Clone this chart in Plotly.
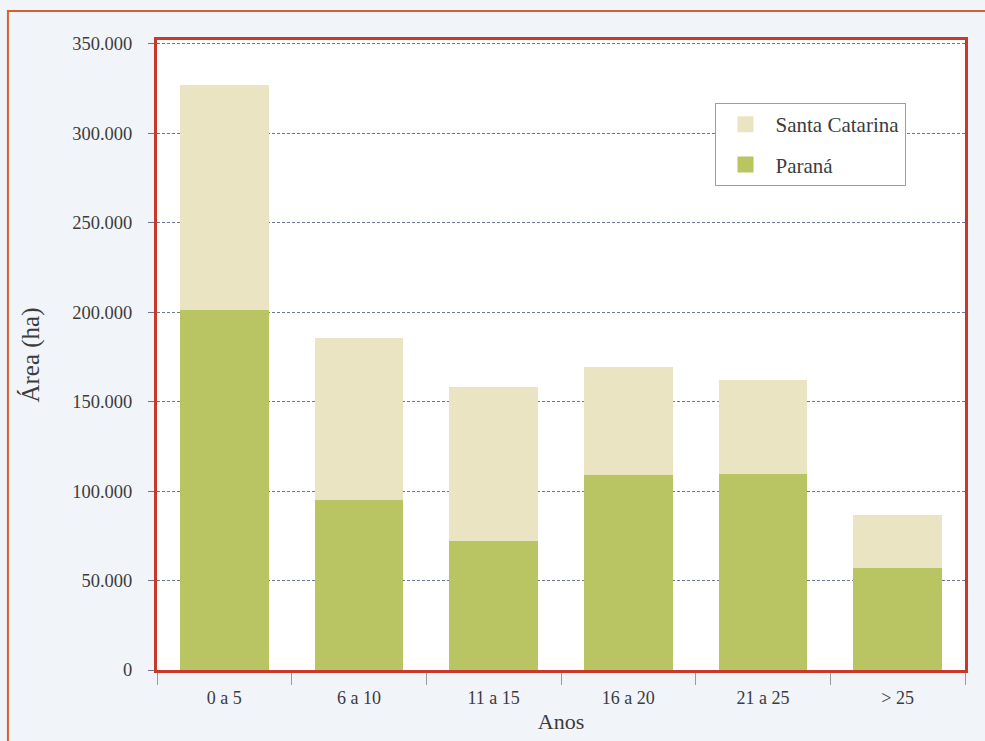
import plotly.graph_objects as go

# Planted area (ha) by stand age class
classes = ["0 a 5", "6 a 10", "11 a 15", "16 a 20", "21 a 25", "> 25"]
parana = [201000, 95000, 72000, 109000, 109500, 57000]
santa_catarina = [126000, 90500, 86000, 60500, 52500, 29500]

y_ticks = [0, 50000, 100000, 150000, 200000, 250000, 300000, 350000]

serif = "Liberation Serif, Times New Roman, serif"
text_color = "#3c3c3c"
frame_red = "#c8392a"
color_pr = "#b9c462"
color_sc = "#ebe4c2"

fig = go.Figure()
fig.add_trace(go.Bar(
    x=classes, y=parana, name="Paraná", showlegend=False,
    marker=dict(color=color_pr, line=dict(width=0)),
))
fig.add_trace(go.Bar(
    x=classes, y=santa_catarina, name="Santa Catarina", showlegend=False,
    marker=dict(color=color_sc, line=dict(width=0)),
))

# Legend entries with larger square swatches
for name, col in [("Santa Catarina", color_sc), ("Paraná", color_pr)]:
    fig.add_trace(go.Scatter(
        x=[None], y=[None], mode="markers", name=name, legendgroup=name,
        marker=dict(symbol="square", size=16, color=col),
        showlegend=True,
    ))

fig.update_layout(
    width=985, height=741,
    barmode="stack", bargap=0.34,
    separators=",.",
    paper_bgcolor="#f1f5f9",
    plot_bgcolor="#ffffff",
    margin=dict(l=157, r=20, t=40, b=71),
    font=dict(family=serif, color=text_color, size=16),
    legend=dict(
        traceorder="grouped",
        x=0.69, y=0.9, xanchor="left", yanchor="top",
        bgcolor="#ffffff", bordercolor="#9aa0aa", borderwidth=1,
        font=dict(family=serif, size=21, color=text_color),
        itemwidth=50, tracegroupgap=10,
    ),
    showlegend=True,
)

fig.update_xaxes(
    automargin=False,
    showline=True, linecolor=frame_red, linewidth=3, mirror=True,
    ticks="outside", tickson="boundaries", ticklen=12, tickwidth=1,
    tickcolor="#9a9a9a", ticklabelstandoff=9,
    tickfont=dict(family=serif, size=18, color=text_color),
    title=dict(text="Anos", font=dict(family=serif, size=22, color=text_color),
               standoff=8),
    showgrid=False,
)
fig.update_yaxes(
    automargin=False,
    range=[0, 352000], tickvals=y_ticks, tickformat=",d",
    showline=True, linecolor=frame_red, linewidth=3, mirror=True,
    ticks="outside", ticklen=6, tickwidth=1, tickcolor="#6a7688",
    ticklabelstandoff=12,
    tickfont=dict(family=serif, size=18.5, color=text_color),
    showgrid=True, gridcolor="#6a7890", griddash="3px,2px", gridwidth=1,
    zeroline=False,
    title=dict(text="Área (ha)", font=dict(family=serif, size=25, color=text_color),
               standoff=26),
)

# Outer page frame surrounding the figure
fig.add_shape(
    type="rect", xref="paper", yref="paper",
    x0=-0.1845, x1=1.2, y0=-0.3, y1=1.046,
    line=dict(color="#d8602e", width=2), fillcolor="rgba(0,0,0,0)",
    layer="below",
)

fig.write_html("out.html")
